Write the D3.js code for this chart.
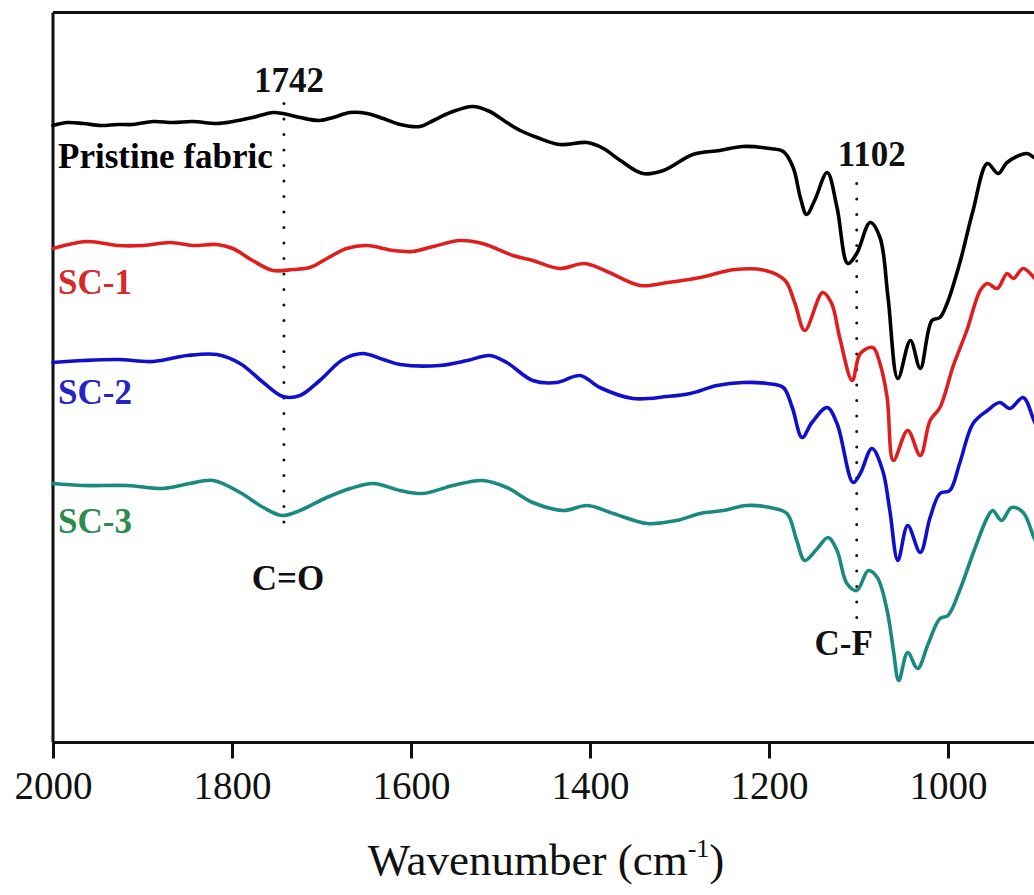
<!DOCTYPE html>
<html>
<head>
<meta charset="utf-8">
<script src="https://cdn.jsdelivr.net/npm/d3@7"></script>
<style>
  html, body { margin: 0; padding: 0; background: #fff; }
  svg { display: block; }
  text { font-family: "Liberation Serif", "Times New Roman", serif; }
</style>
</head>
<body>
<svg id="chart" width="1034" height="895"></svg>
<script>
// FTIR spectra: [wavenumber (cm^-1), transmittance (a.u., offset per sample)]
const pristine = [
  [2000,61.7],[1984,62.0],[1966,61.9],[1947,61.7],[1928,61.8],[1911,61.8],[1888,62.1],[1866,62.0],
  [1844,62.1],[1817,61.9],[1799,62.1],[1777,62.5],[1754,63.0],[1743,62.9],[1724,62.5],[1702,62.2],
  [1687,62.5],[1668,63.0],[1649,62.9],[1631,62.4],[1612,61.8],[1590,61.6],[1575,62.2],[1556,63.0],
  [1531,63.6],[1512,63.1],[1493,62.0],[1478,61.2],[1459,60.5],[1434,59.8],[1403,60.0],[1385,59.4],
  [1366,58.2],[1341,56.9],[1318,57.2],[1285,58.8],[1255,59.2],[1229,59.6],[1199,59.4],[1184,59.1],
  [1173,57.5],[1165,54.5],[1158,52.8],[1149,54.2],[1135,57.0],[1124,53.5],[1112,47.9],[1102,48.9],
  [1087,52.0],[1076,50.5],[1067,44.5],[1056,36.4],[1042,40.2],[1031,37.4],[1018,42.2],[1009,42.5],
  [1001,43.9],[987,47.9],[972,53.2],[956,57.9],[944,56.9],[934,58.0],[912,58.9],[904,58.5],[900,58.3]
];
const sc1 = [
  [2000,49.4],[1962,50.1],[1928,49.7],[1899,49.7],[1869,50.0],[1844,49.7],[1817,49.8],[1799,49.4],
  [1777,48.2],[1754,47.2],[1732,47.3],[1713,47.5],[1694,48.4],[1672,49.4],[1649,49.7],[1620,49.2],
  [1598,49.1],[1575,49.6],[1545,50.2],[1520,49.9],[1486,48.7],[1464,48.2],[1434,47.4],[1406,47.9],
  [1381,47.1],[1344,45.7],[1313,46.0],[1277,46.5],[1238,47.3],[1204,47.2],[1182,46.2],[1171,43.9],
  [1160,41.2],[1140,45.0],[1130,43.9],[1121,40.5],[1107,36.2],[1098,38.9],[1084,39.5],[1076,37.9],
  [1068,34.5],[1061,28.2],[1045,31.2],[1031,28.7],[1020,32.2],[1009,33.5],[994,37.7],[979,41.2],
  [964,45.2],[956,45.9],[945,45.4],[934,46.9],[927,46.4],[916,47.4],[904,46.5],[900,46.0]
];
const sc2 = [
  [2000,38.0],[1966,38.2],[1928,38.3],[1888,38.1],[1850,38.7],[1817,38.8],[1791,37.9],[1765,36.0],
  [1743,34.6],[1724,34.7],[1702,36.2],[1676,38.3],[1654,38.9],[1631,38.3],[1612,37.8],[1568,37.7],
  [1537,38.2],[1512,38.7],[1493,38.0],[1464,36.2],[1437,36.0],[1411,36.7],[1389,35.5],[1352,34.4],
  [1314,34.6],[1288,34.9],[1258,35.7],[1229,36.0],[1202,35.9],[1184,35.5],[1174,33.5],[1163,30.5],
  [1152,32.0],[1135,33.5],[1124,31.9],[1106,26.0],[1098,26.9],[1085,29.4],[1073,27.2],[1065,23.2],
  [1056,18.2],[1045,21.7],[1031,19.0],[1020,22.5],[1009,24.9],[998,25.2],[987,27.9],[972,31.9],
  [956,33.2],[942,34.0],[931,33.4],[916,34.5],[904,32.2],[900,31.5]
];
const sc3 = [
  [2000,25.9],[1966,25.7],[1917,25.7],[1877,25.4],[1847,25.9],[1821,26.2],[1791,25.0],[1765,23.5],
  [1744,22.7],[1724,23.2],[1694,24.5],[1668,25.4],[1642,25.9],[1612,25.2],[1587,24.9],[1553,25.7],
  [1520,26.2],[1493,25.5],[1464,24.0],[1430,23.2],[1403,23.7],[1374,22.9],[1336,21.9],[1303,22.2],
  [1277,22.9],[1251,23.2],[1225,23.7],[1199,23.5],[1180,22.9],[1169,20.2],[1160,18.2],[1146,19.4],
  [1134,20.5],[1124,19.2],[1113,15.9],[1102,15.2],[1089,17.2],[1079,16.5],[1068,13.2],[1061,9.2],
  [1055,6.2],[1045,9.0],[1034,7.4],[1022,9.9],[1009,12.4],[1000,12.7],[987,15.2],[972,18.9],
  [956,22.5],[950,23.2],[940,22.2],[929,23.5],[916,23.0],[904,20.5],[900,19.8]
];

const seriesNames  = ["Pristine fabric", "SC-1", "SC-2", "SC-3"];
const seriesData   = [pristine, sc1, sc2, sc3];
const lineColors   = ["#000000", "#e01e1e", "#1010cc", "#1a8a80"];
const labelColors  = ["#000000", "#d42a2a", "#2424c4", "#2e8b4e"];
const labelLevels  = [57.5, 44.9, 33.9, 21.0];   // y value of each series label baseline

const xTicks = [2000, 1800, 1600, 1400, 1200, 1000];

// Marked bands: peak position, dotted guide span (y values), band assignment
const peakPositions = [1742, 1102];
const peakTopLabels = ["1742", "1102"];
const bandLabels    = ["C=O", "C-F"];
const guideSpans    = [[63.9, 20.5], [55.9, 12.4]];

const svg = d3.select("#chart");
const plotLeft = 53, plotTop = 12.5, plotBottom = 742.5;

const x = d3.scaleLinear().domain([2000, 900]).range([plotLeft, plotLeft + 1100 * 0.895]);
const y = d3.scaleLinear().domain([0, 73]).range([plotBottom, plotTop]);

// frame: left and top borders
svg.append("line").attr("x1", plotLeft).attr("x2", plotLeft).attr("y1", plotTop).attr("y2", plotBottom)
  .attr("stroke", "#111").attr("stroke-width", 3);
svg.append("line").attr("x1", plotLeft).attr("x2", 1034).attr("y1", plotTop).attr("y2", plotTop)
  .attr("stroke", "#111").attr("stroke-width", 3);

// bottom axis
const xAxis = d3.axisBottom(x).tickValues(xTicks).tickSize(16).tickSizeOuter(0).tickPadding(13)
  .tickFormat(d3.format("d"));
const gx = svg.append("g").attr("transform", `translate(0,${plotBottom})`).call(xAxis);
gx.select(".domain").attr("stroke", "#111").attr("stroke-width", 3).attr("d", `M${plotLeft},0H1034`);
gx.selectAll(".tick line").attr("stroke", "#111").attr("stroke-width", 3);
gx.selectAll(".tick text").attr("fill", "#111").style("font-size", "39px")
  .style("font-family", "'Liberation Serif', serif");

// axis title
const title = svg.append("text").attr("x", 546).attr("y", 875).attr("text-anchor", "middle")
  .attr("fill", "#111").style("font-size", "45px");
title.append("tspan").text("Wavenumber (cm");
title.append("tspan").attr("dy", -18).style("font-size", "26px").text("-1");
title.append("tspan").attr("dy", 18).text(")");

// dotted guides
peakPositions.forEach((p, i) => {
  svg.append("line")
    .attr("x1", x(p)).attr("x2", x(p))
    .attr("y1", y(guideSpans[i][0])).attr("y2", y(guideSpans[i][1]))
    .attr("stroke", "#111").attr("stroke-width", 3)
    .attr("stroke-linecap", "round").attr("stroke-dasharray", "0,15.5");
});

// spectra
const line = d3.line().x(d => x(d[0])).y(d => y(d[1])).curve(d3.curveCatmullRom.alpha(0.5));
seriesData.forEach((s, i) => {
  svg.append("path").datum(s).attr("d", line)
    .attr("fill", "none").attr("stroke", lineColors[i]).attr("stroke-width", 3.6)
    .attr("stroke-linejoin", "round").attr("stroke-linecap", "round");
});

// series labels
seriesNames.forEach((n, i) => {
  svg.append("text").attr("x", plotLeft + 5).attr("y", y(labelLevels[i]))
    .attr("fill", labelColors[i]).style("font-size", "35px").style("font-weight", "bold").text(n);
});

// peak position labels and band labels
const topOffsets = [[5, 92], [15, 166]];
const bandOffsets = [[4, 590], [-13, 655]];
peakPositions.forEach((p, i) => {
  svg.append("text").attr("x", x(p) + topOffsets[i][0]).attr("y", topOffsets[i][1])
    .attr("text-anchor", "middle").attr("fill", "#111")
    .style("font-size", "35px").style("font-weight", "bold").text(peakTopLabels[i]);
  svg.append("text").attr("x", x(p) + bandOffsets[i][0]).attr("y", bandOffsets[i][1])
    .attr("text-anchor", "middle").attr("fill", "#111")
    .style("font-size", "35px").style("font-weight", "bold").text(bandLabels[i]);
});
</script>
</body>
</html>
